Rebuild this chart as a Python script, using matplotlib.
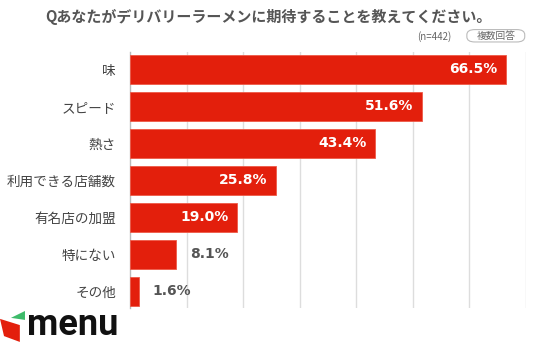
import matplotlib.pyplot as plt
from matplotlib.patches import FancyBboxPatch, Polygon

plt.rcParams['font.family'] = ['Noto Sans CJK JP', 'DejaVu Sans']

categories = ['味', 'スピード', '熱さ', '利用できる店舗数', '有名店の加盟', '特にない', 'その他']
values = [66.5, 51.6, 43.4, 25.8, 19.0, 8.1, 1.6]
title = 'Qあなたがデリバリーラーメンに期待することを教えてください。'

RED = '#E31F0C'
GRAY = '#555555'

fig = plt.figure(figsize=(5.36, 3.44), dpi=100)
ax = fig.add_axes([0.2425, 0.105, 0.7385, 0.744])

y = list(range(len(categories)))
ax.barh(y, values, height=0.78, color=RED, edgecolor='#EE5A48', linewidth=0.6, zorder=3)

ax.set_xlim(0, 70)
ax.set_ylim(6.45, -0.47)
ax.set_xticks(range(10, 71, 10))
ax.xaxis.grid(True, color='#DDDDDD', linewidth=1, zorder=0)
ax.tick_params(axis='x', length=0, labelbottom=False)
ax.tick_params(axis='y', length=0, pad=10)
ax.set_yticks(y)
ax.set_yticklabels(categories, fontsize=9.8, color='#444444')
for side in ['top', 'right', 'bottom']:
    ax.spines[side].set_visible(False)
ax.spines['left'].set_color('#BBBBBB')
ax.spines['left'].set_linewidth(1)

# value labels: inside for long bars, outside for short ones
for yi, v in zip(y, values):
    if v >= 15:
        ax.annotate(f'{v:.1f}%', (v, yi), xytext=(-6, 0), textcoords='offset points',
                    ha='right', va='center', color='white', fontsize=10,
                    fontweight='bold', family='DejaVu Sans', zorder=4)
    else:
        ax.annotate(f'{v:.1f}%', (v, yi), xytext=(10, 0), textcoords='offset points',
                    ha='left', va='center', color=GRAY, fontsize=10,
                    fontweight='bold', family='DejaVu Sans', zorder=4)

fig.text(0.5, 0.952, title, ha='center', va='center', fontsize=10.8,
         fontweight='bold', color='#555555')
fig.text(0.81, 0.895, '(n=442)', ha='center', va='center', fontsize=7, color='#666666')
fig.patches.append(FancyBboxPatch((0.871, 0.878), 0.108, 0.036,
                                  boxstyle='round,pad=0,rounding_size=0.015',
                                  transform=fig.transFigure, facecolor='white',
                                  edgecolor='#BBBBBB', linewidth=0.8))
fig.text(0.925, 0.895, '複数回答', ha='center', va='center', fontsize=7, color='#666666')

# logo: red block with green corner and wordmark
fig.patches.append(Polygon([(0.0, 0.073), (0.037, 0.055), (0.037, 0.006), (0.0075, 0.023)],
                           closed=True, transform=fig.transFigure, facecolor=RED))
fig.patches.append(Polygon([(0.0205, 0.076), (0.0466, 0.096), (0.0466, 0.070)],
                           closed=True, transform=fig.transFigure, facecolor='#3DBB6A'))
fig.text(0.051, 0.003, 'menu', ha='left', va='bottom', fontsize=26, fontweight='bold',
         family='Roboto', color='#111111')

fig.savefig('out.png', dpi=100, facecolor='white')
